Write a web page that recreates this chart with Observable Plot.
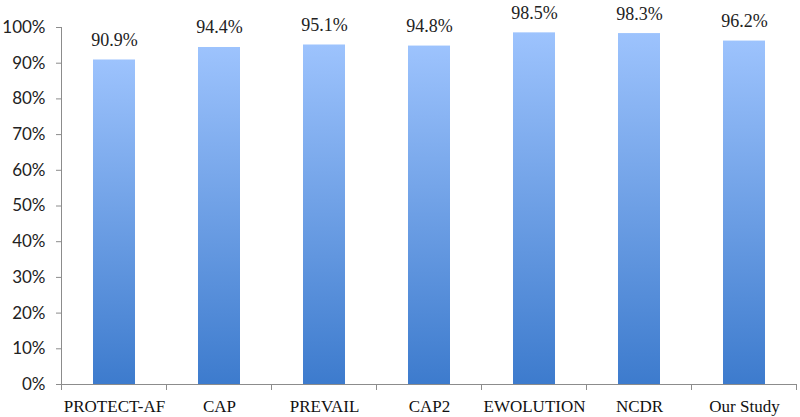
<!DOCTYPE html>
<html>
<head>
<meta charset="utf-8">
<script src="https://cdn.jsdelivr.net/npm/d3@7"></script>
<script src="https://cdn.jsdelivr.net/npm/@observablehq/plot@0.6"></script>
<style>
  html, body { margin: 0; padding: 0; background: #fff; }
  #chart svg { display: block; }
</style>
</head>
<body>
<div id="chart"></div>
<script>
const categories = ["PROTECT-AF", "CAP", "PREVAIL", "CAP2", "EWOLUTION", "NCDR", "Our Study"];
const values = [90.9, 94.4, 95.1, 94.8, 98.5, 98.3, 96.2];
const yTicks = [0, 10, 20, 30, 40, 50, 60, 70, 80, 90, 100];

const data = categories.map((c, i) => ({category: c, value: values[i]}));

const gradient = () => {
  const defs = d3.create("svg:defs");
  const g = defs.append("linearGradient")
    .attr("id", "barGrad")
    .attr("x1", 0).attr("y1", 0).attr("x2", 0).attr("y2", 1);
  g.append("stop").attr("offset", "0%").attr("stop-color", "#9dc3fd");
  g.append("stop").attr("offset", "100%").attr("stop-color", "#3d7bcd");
  return defs.node();
};

const plot = Plot.plot({
  width: 800,
  height: 417,
  marginLeft: 61,
  marginRight: 4,
  marginTop: 27,
  marginBottom: 33,
  style: {background: "#fff", color: "#222"},
  x: {domain: categories, paddingInner: 0.6, paddingOuter: 0.3, label: null},
  y: {domain: [0, 100], label: null},
  marks: [
    gradient,
    Plot.barY(data, {x: "category", y: "value", fill: "url(#barGrad)"}),
    Plot.text(data, {
      x: "category", y: "value", text: d => d.value.toFixed(1) + "%",
      lineAnchor: "bottom", dy: -14, fontSize: 18, fontFamily: "Liberation Serif", fill: "#222"
    }),
    Plot.axisY({
      ticks: yTicks, tickFormat: d => d + "%", tickSize: 5, tickPadding: 11,
      fontSize: 17, fontFamily: "Lato", stroke: "#8c8c8c", fill: "#222"
    }),
    Plot.axisX({
      tickSize: 0, tickPadding: 15, fontSize: 17, fontFamily: "Liberation Serif", fill: "#111"
    }),
    Plot.frame({anchor: "left", stroke: "#8c8c8c"}),
    Plot.ruleY([0], {stroke: "#8c8c8c"})
  ]
});

// category boundary ticks on the x axis
const sx = plot.scale("x");
const sy = plot.scale("y");
const step = sx.step;
const half = sx.paddingInner * step / 2;
const bounds = categories.map(c => sx.apply(c) - half);
bounds.push(sx.apply(categories[categories.length - 1]) + sx.bandwidth + half);
const y0 = sy.apply(0);
d3.select(plot).append("g")
  .attr("stroke", "#8c8c8c")
  .selectAll("line")
  .data(bounds)
  .join("line")
  .attr("x1", d => d).attr("x2", d => d)
  .attr("y1", y0).attr("y2", y0 + 6);

document.getElementById("chart").appendChild(plot);
</script>
</body>
</html>
